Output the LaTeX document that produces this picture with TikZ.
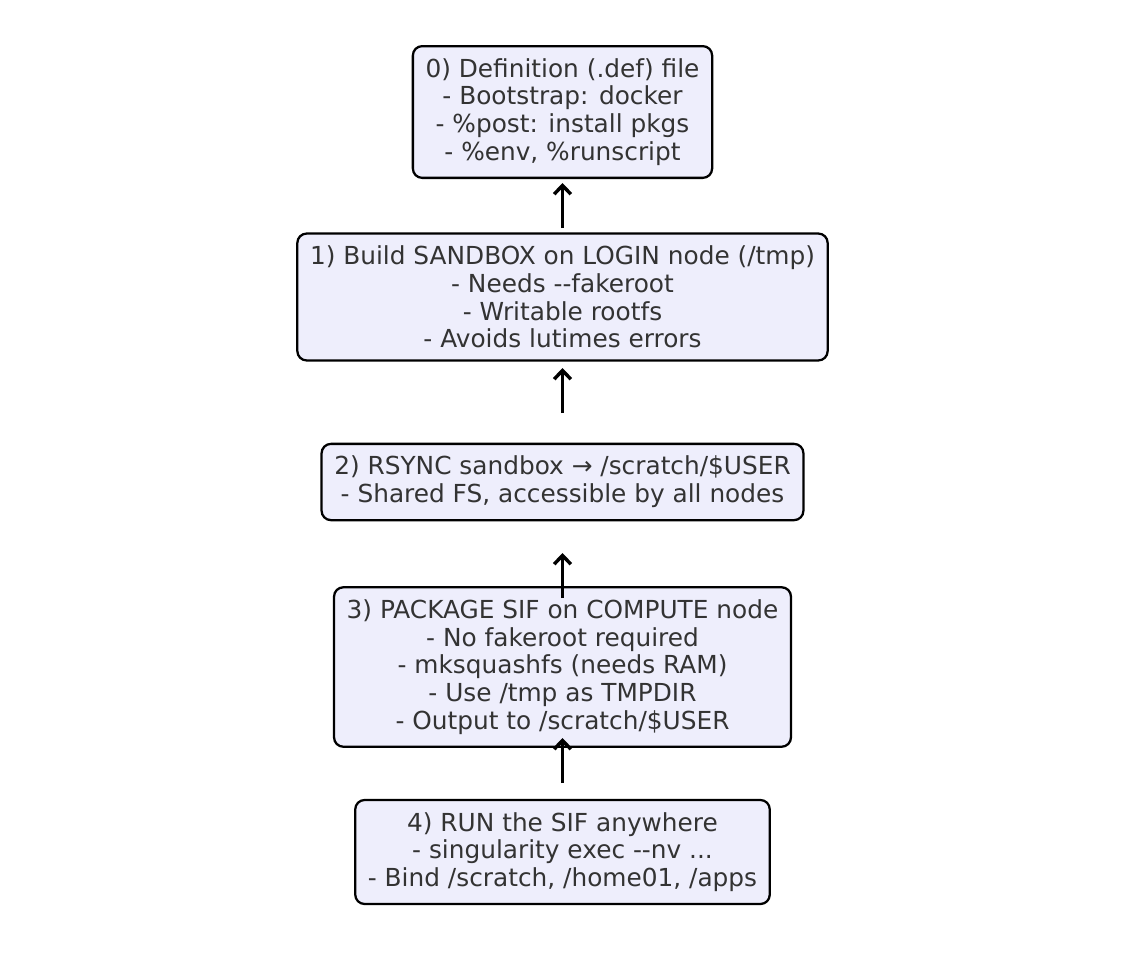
\documentclass[tikz,border=0pt]{standalone}
\usepackage{fontspec}
\setmainfont{DejaVu Sans}
\usetikzlibrary{arrows.meta, positioning}
\definecolor{boxfill}{RGB}{238,238,252}
\definecolor{boxtext}{RGB}{51,51,51}

\begin{document}
\begin{tikzpicture}[
        x=0.75pt, y=-0.75pt,
        node distance=138.75pt, on grid, >={Straight Barb[length=6.5pt,width=12.5pt]},
        stage/.style={draw=black, line width=1.7pt, fill=boxfill, rounded corners=7pt,
          align=center, inner xsep=9.5pt, inner ysep=9.2pt, text=boxtext,
          font=\fontsize{18.6}{20.8}\selectfont},
        link/.style={->, line width=2.6pt, shorten <=51.75pt, shorten >=53.25pt}
        ]
        \useasboundingbox (0,0) rectangle (1124,964);

        \node[stage]  (def)     at (562.5,112)  {0) Definition (.def) file\\- Bootstrap: docker\\- \%post: install pkgs\\- \%env, \%runscript};
        \node[stage]  (sandbox) [below=of def]     {1) Build SANDBOX on LOGIN node (/tmp)\\- Needs -{}-fakeroot\\- Writable rootfs\\- Avoids lutimes errors};
        \node[stage]  (rsync)   [below=of sandbox] {2) RSYNC sandbox → /scratch/\$USER\\- Shared FS, accessible by all nodes};
        \node[stage]  (sif)     [below=of rsync]   {3) PACKAGE SIF on COMPUTE node\\- No fakeroot required\\- mksquashfs (needs RAM)\\- Use /tmp as TMPDIR\\- Output to /scratch/\$USER};
        \node[stage]  (run)     [below=of sif]     {4) RUN the SIF anywhere\\- singularity exec -{}-nv ...\\- Bind /scratch, /home01, /apps};

        % arrows point back up the chain
        \draw[link] (sandbox.center) -- (def.center);
        \draw[link] (rsync.center) -- (sandbox.center);
        \draw[link] (sif.center) -- (rsync.center);
        \draw[link] (run.center) -- (sif.center);
      \end{tikzpicture}
\end{document}
